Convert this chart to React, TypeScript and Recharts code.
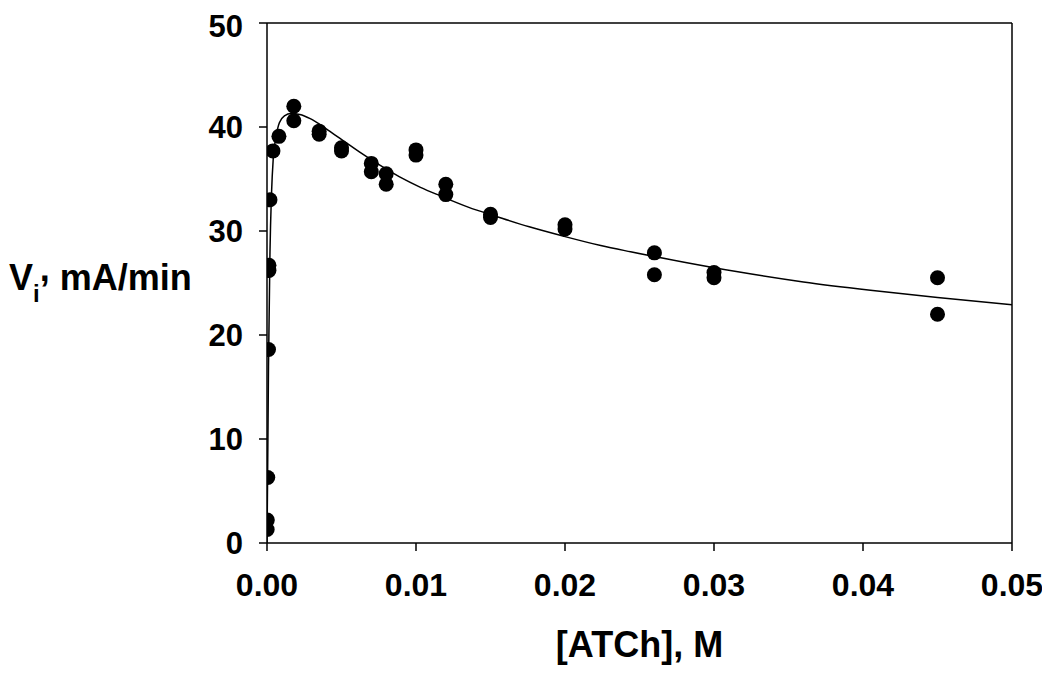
import React from "react";
import { ComposedChart, Line, Scatter, XAxis, YAxis, ReferenceLine } from "recharts";

// measured points: [ATCh] (M) and initial rate (mA/min)
const pointConc = [
  0.00001, 0.00002, 0.00005, 0.0001, 0.00013, 0.00013, 0.0002, 0.0004, 0.0008,
  0.0018, 0.0018, 0.0035, 0.0035, 0.005, 0.005, 0.007, 0.007, 0.008, 0.008,
  0.01, 0.01, 0.012, 0.012, 0.015, 0.015, 0.02, 0.02, 0.026, 0.026, 0.03, 0.03,
  0.045, 0.045,
];
const pointRate = [
  1.3, 2.2, 6.3, 18.6, 26.7, 26.2, 33.0, 37.7, 39.1,
  42.0, 40.6, 39.6, 39.3, 38.0, 37.7, 36.5, 35.7, 35.5, 34.5,
  37.8, 37.3, 34.5, 33.5, 31.6, 31.3, 30.6, 30.2, 27.9, 25.8, 26.0, 25.5,
  25.5, 22.0,
];

// fitted curve
const curveConc = [
  0, 0.00005, 0.0001, 0.0002, 0.0003, 0.00042, 0.0006, 0.00083, 0.0012, 0.0016,
  0.0022, 0.0029, 0.0036, 0.0042, 0.0049, 0.0062, 0.0076, 0.0089, 0.0103, 0.0116,
  0.0135, 0.0154, 0.0176, 0.0199, 0.0224, 0.0244, 0.028, 0.0315, 0.036, 0.0405,
  0.045, 0.05,
];
const curveRate = [
  0, 8, 17, 28, 33.5, 37.0, 39.0, 40.4, 41.1, 41.3,
  41.2, 40.8, 40.2, 39.6, 38.9, 37.6, 36.3, 35.2, 34.2, 33.4,
  32.3, 31.4, 30.4, 29.5, 28.6, 28.0, 27.0, 26.1, 25.1, 24.3,
  23.6, 22.9,
];

const xTicks = [0, 0.01, 0.02, 0.03, 0.04, 0.05];
const yTicks = [0, 10, 20, 30, 40, 50];

const points = pointConc.map((s, i) => ({ s, v: pointRate[i] }));
const curve = curveConc.map((s, i) => ({ s, v: curveRate[i] }));

const FONT = "'Liberation Sans', Arial, sans-serif";

const Dot = (props: any) => <circle cx={props.cx} cy={props.cy} r={7.5} fill="#000" />;

const YLabel = ({ viewBox }: any) => {
  const y = viewBox.y + viewBox.height / 2 + 7;
  return (
    <text x={viewBox.x + 1} y={y} fontFamily={FONT} fontWeight="bold" fontSize={36} fill="#000">
      <tspan>V</tspan>
      <tspan fontSize={24} dy={12}>i</tspan>
      <tspan dy={-21}>,</tspan>
      <tspan dy={9}> mA/min</tspan>
    </text>
  );
};

const XLabel = ({ viewBox }: any) => (
  <text
    x={viewBox.x + viewBox.width / 2}
    y={viewBox.y + 114}
    textAnchor="middle"
    fontFamily={FONT}
    fontWeight="bold"
    fontSize={36}
    fill="#000"
  >
    [ATCh], M
  </text>
);

export default function App() {
  return (
    <ComposedChart width={1034} height={665} margin={{ top: 15, right: 30, bottom: 30, left: 0 }}>
      <XAxis
        dataKey="s"
        type="number"
        domain={[0, 0.05]}
        ticks={xTicks}
        allowDataOverflow
        tickFormatter={(t: number) => t.toFixed(2)}
        height={100}
        tickSize={8}
        tickMargin={22}
        stroke="#000"
        strokeWidth={1.5}
        tick={{ fontFamily: FONT, fontWeight: "bold", fontSize: 32, fill: "#000" }}
        label={<XLabel />}
      />
      <YAxis
        type="number"
        domain={[0, 50]}
        ticks={yTicks}
        width={259}
        tickSize={8}
        tickMargin={16}
        stroke="#000"
        strokeWidth={1.5}
        tick={{ fontFamily: FONT, fontWeight: "bold", fontSize: 31, fill: "#000" }}
        label={<YLabel />}
      />
      <ReferenceLine y={50} stroke="#000" strokeWidth={1.5} />
      <ReferenceLine x={0.05} stroke="#000" strokeWidth={1.5} />
      <Line
        data={curve}
        dataKey="v"
        type="monotone"
        stroke="#000"
        strokeWidth={1.5}
        dot={false}
        activeDot={false}
        isAnimationActive={false}
      />
      <Scatter data={points} dataKey="v" shape={<Dot />} isAnimationActive={false} />
    </ComposedChart>
  );
}
